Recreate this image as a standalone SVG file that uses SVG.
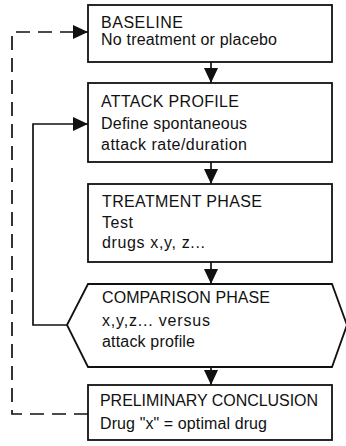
<svg xmlns="http://www.w3.org/2000/svg" width="346" height="446" viewBox="0 0 346 446">
  <defs>
    <style>
      .box { fill: #ffffff; stroke: #111111; stroke-width: 1.8; }
      .link { fill: none; stroke: #111111; stroke-width: 1.7; }
      .dash { stroke-dasharray: 14 8; }
      .head { fill: #111111; stroke: none; }
      text { font-family: "Liberation Sans", Arial, Helvetica, sans-serif; font-size: 16px; fill: #111111; }
    </style>
    <marker id="arrow" markerUnits="userSpaceOnUse" markerWidth="16" markerHeight="14" refX="15" refY="7" orient="auto">
      <path class="head" d="M0,0 L15,7 L0,14 Z"/>
    </marker>
  </defs>
  <rect width="346" height="446" fill="#ffffff"/>

  <!-- connectors -->
  <g id="connectors">
    <line class="link" x1="211" y1="62" x2="211" y2="83" marker-end="url(#arrow)"/>
    <line class="link" x1="211" y1="162" x2="211" y2="184" marker-end="url(#arrow)"/>
    <line class="link" x1="211" y1="262" x2="211" y2="284" marker-end="url(#arrow)"/>
    <line class="link" x1="211" y1="367" x2="211" y2="385" marker-end="url(#arrow)"/>
    <!-- comparison loops back to attack profile -->
    <polyline class="link" points="67,325 33,325 33,124 88,124" marker-end="url(#arrow)"/>
    <!-- conclusion loops back to baseline -->
    <polyline class="link dash" points="88,414 12,414 12,32 74,32"/>
    <line class="link" x1="74" y1="32" x2="88" y2="32" marker-end="url(#arrow)"/>
  </g>

  <g id="baseline">
    <rect class="box" x="88" y="5" width="244" height="57"/>
    <text x="101" y="28" textLength="82">BASELINE</text>
    <text x="101" y="45" textLength="176">No treatment or placebo</text>
  </g>

  <g id="attack-profile">
    <rect class="box" x="88" y="83" width="244" height="79"/>
    <text x="101" y="107" textLength="138">ATTACK PROFILE</text>
    <text x="101" y="129" textLength="146">Define spontaneous</text>
    <text x="101" y="150" textLength="146">attack rate/duration</text>
  </g>

  <g id="treatment-phase">
    <rect class="box" x="88" y="184" width="244" height="78"/>
    <text x="102" y="207" textLength="160">TREATMENT PHASE</text>
    <text x="102" y="228" textLength="31">Test</text>
    <text x="102" y="248" textLength="103">drugs x,y, z...</text>
  </g>

  <g id="comparison-phase">
    <polygon class="box" points="67,325 88,284 332,284 347,325 332,367 88,367"/>
    <text x="102" y="303" textLength="168">COMPARISON PHASE</text>
    <text x="102" y="326" textLength="108">x,y,z... versus</text>
    <text x="102" y="347" textLength="93">attack profile</text>
  </g>

  <g id="preliminary-conclusion">
    <rect class="box" x="88" y="385" width="244" height="55"/>
    <text x="100" y="406" textLength="218">PRELIMINARY CONCLUSION</text>
    <text x="100" y="429" textLength="167">Drug "x" = optimal drug</text>
  </g>
</svg>
